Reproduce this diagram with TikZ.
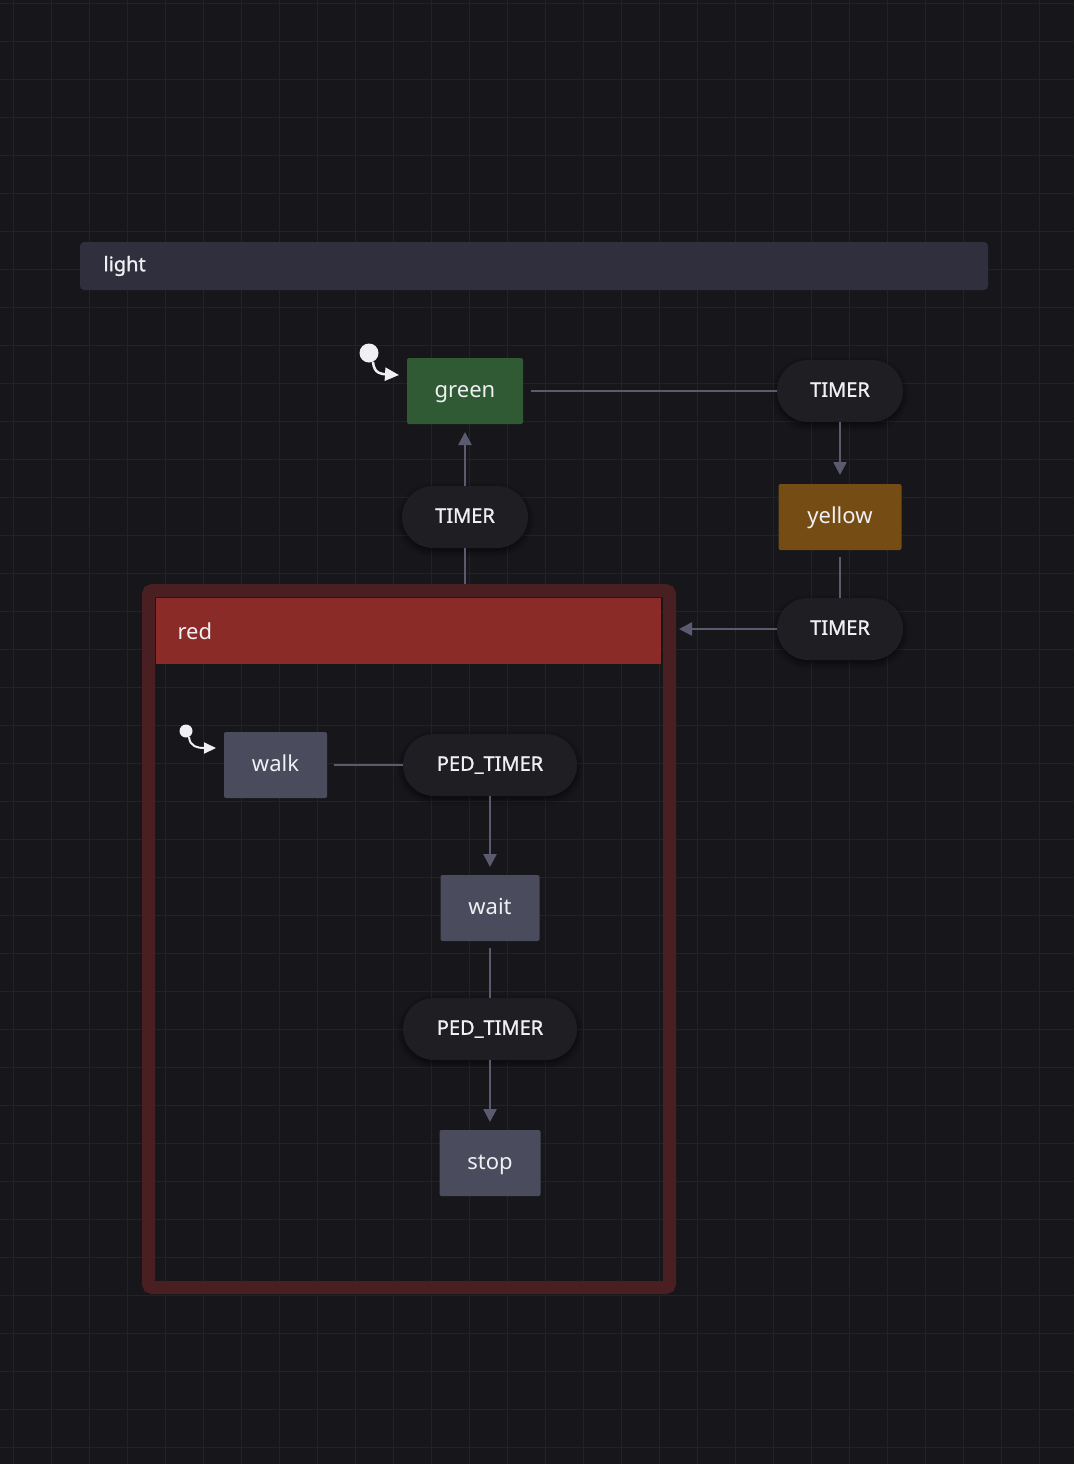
\documentclass[tikz,border=0pt]{standalone}
\usepackage{fontspec}
\setmainfont{Noto Sans}
\newfontfamily\semib{Noto Sans}[FakeBold=1.2]
\usetikzlibrary{arrows.meta,shadows.blur}
\definecolor{bg}{HTML}{16161B}
\definecolor{gridc}{HTML}{222229}
\definecolor{barc}{HTML}{2F2F3D}
\definecolor{greenc}{HTML}{2F5A33}
\definecolor{yellowc}{HTML}{744C14}
\definecolor{redh}{HTML}{8B2B27}
\definecolor{redb}{HTML}{4A1F21}
\definecolor{grayn}{HTML}{4A4B5C}
\definecolor{pill}{HTML}{1E1E23}
\definecolor{edge}{HTML}{5A5B6E}
\definecolor{txt}{HTML}{F0F0F4}
\begin{document}
\begin{tikzpicture}[x=1pt,y=-1pt,
  state/.style={rounded corners=2pt,minimum height=66pt,text=txt,font=\fontsize{22}{26}\selectfont,inner sep=0pt,outer sep=0pt,text height=16pt,text depth=4pt},
  ev/.style={rounded corners=31pt,fill=pill,minimum height=62pt,text=txt,font=\semib\fontsize{20}{24}\selectfont,inner sep=0pt,outer sep=0pt,text height=14.5pt,text depth=3pt,blur shadow={shadow xshift=0pt,shadow yshift=-3pt,shadow blur radius=6pt,shadow opacity=60}},
  ln/.style={draw=edge,line width=2.5pt},
  ar/.style={ln,-{Triangle[width=13pt,length=13pt]}},
  ini/.style={draw=txt,line width=2.5pt,-{Triangle[width=13pt,length=14pt]},fill=none}]
\fill[bg] (0,0) rectangle (1074,1464);
\useasboundingbox (0,0) rectangle (1074,1464);
\foreach \i in {0,...,28} {\draw[gridc,line width=1pt] (13+38*\i,0) -- (13+38*\i,1464);}
\foreach \i in {0,...,38} {\draw[gridc,line width=1pt] (0,3.5+38*\i) -- (1074,3.5+38*\i);}
% light bar
\node[fill=barc,rounded corners=4pt,minimum width=908pt,minimum height=48pt,anchor=north west,inner sep=0pt,outer sep=0pt] (light) at (80,242) {};
\node[text=txt,font=\semib\fontsize{20}{24}\selectfont,anchor=west] (lightt) at (100,266) {light};
% red container
\draw[redb,line width=13pt,rounded corners=4pt] (148.5,590.5) rectangle (669.5,1287.5);
\coordinate (red) at (409,939);
\node[fill=redh,minimum width=505pt,minimum height=66pt,anchor=north west,inner sep=0pt,outer sep=0pt] (redhd) at (156,598) {};
\node[text=txt,font=\fontsize{22}{26}\selectfont,anchor=west] (redt) at (174,631) {red};
% states
\node[state,fill=greenc,minimum width=116pt] (green) at (465,391) {green};
\node[state,fill=yellowc,minimum width=123pt] (yellow) at (840,517) {yellow};
\node[state,fill=grayn,minimum width=103pt] (walk) at (275.5,765) {walk};
\node[state,fill=grayn,minimum width=99pt] (wait) at (490,908) {wait};
\node[state,fill=grayn,minimum width=101pt] (stop) at (490,1163) {stop};
% events
\node[ev,minimum width=126pt] (t1) at (840,391) {TIMER};
\node[ev,minimum width=126pt] (t2) at (465,517) {TIMER};
\node[ev,minimum width=126pt] (t3) at (840,629) {TIMER};
\node[ev,minimum width=174pt] (p1) at (490,765) {PED\_TIMER};
\node[ev,minimum width=174pt] (p2) at (490,1029) {PED\_TIMER};
% edges
\draw[ln] ([xshift=8pt]green.east) -- (t1.west);
\draw[ar] (t1.south) -- ([yshift=9pt]yellow.north);
\draw[ln] ([yshift=-7pt]yellow.south) -- (t3.north);
\draw[ar] (t3.west) -- (679,629);
\draw[ln] (465,584) -- (t2.south);
\draw[ar] (t2.north) -- ([yshift=-8pt]green.south);
\draw[ln] ([xshift=7pt]walk.east) -- (p1.west);
\draw[ar] (p1.south) -- ([yshift=8pt]wait.north);
\draw[ln] ([yshift=-7pt]wait.south) -- (p2.north);
\draw[ar] (p2.south) -- ([yshift=8pt]stop.north);
% initial markers
\fill[txt] (369,353) circle (9.5pt);
\coordinate (i1) at (373,362);
\draw[ini] (i1) .. controls (374,374) and (382,374) .. (399,375);
\fill[txt] (186,731) circle (6.5pt);
\coordinate (i2) at (189,737);
\draw[ini,line width=2pt,-{Triangle[width=11pt,length=12pt]}] (i2) .. controls (190,747) and (198,748) .. (216,748);
\end{tikzpicture}
\end{document}
